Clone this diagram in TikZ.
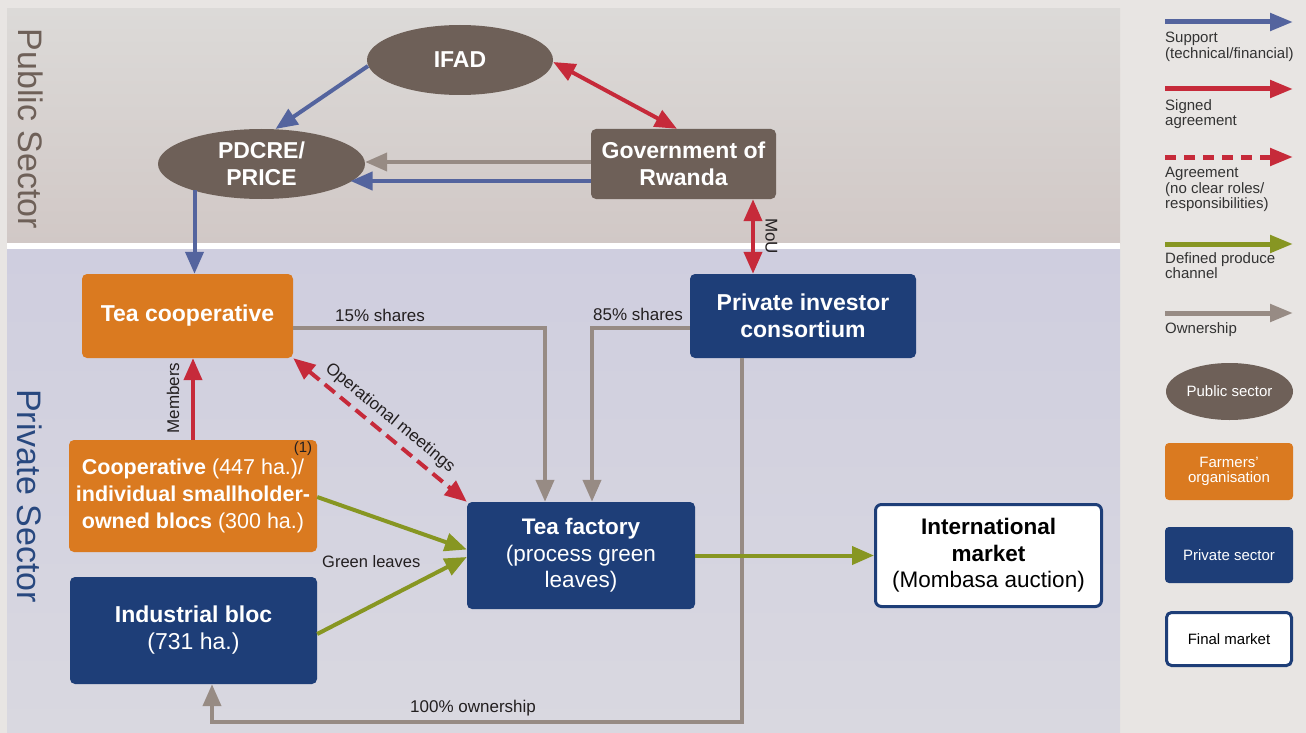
\documentclass[tikz,border=0pt]{standalone}
\usepackage{fontspec}
\setmainfont{Liberation Sans}
\usetikzlibrary{arrows.meta,calc,shapes.geometric}
\definecolor{bgpage}{HTML}{E8E5E3}
\definecolor{pubtop}{HTML}{DCDAD8}
\definecolor{pubbot}{HTML}{D1C8C6}
\definecolor{privtop}{HTML}{CFCEDF}
\definecolor{privbot}{HTML}{D9D8E0}
\definecolor{pubfill}{HTML}{6E6058}
\definecolor{orgfill}{HTML}{DA7A20}
\definecolor{navy}{HTML}{1E3E78}
\definecolor{privtxt}{HTML}{28487F}
\definecolor{supblue}{HTML}{54649E}
\definecolor{sigred}{HTML}{C62A3A}
\definecolor{prodgreen}{HTML}{879622}
\definecolor{owngrey}{HTML}{978B84}
\definecolor{txtdark}{HTML}{231F20}
\definecolor{legtxt}{HTML}{333333}
\begin{document}
\begin{tikzpicture}[x=1pt,y=-1pt,
  bigfont/.style={font=\fontsize{23}{27}\selectfont},
  smallfont/.style={font=\fontsize{17}{20}\selectfont},
  legfont/.style={font=\fontsize{15}{15.6}\selectfont},
  pubell/.style={ellipse, fill=pubfill, text=white, inner sep=0pt, align=center, bigfont},
  pubbox/.style={rectangle, rounded corners=5pt, fill=pubfill, text=white, inner sep=0pt, align=center, bigfont},
  orgbox/.style={rectangle, rounded corners=5pt, fill=orgfill, text=white, inner sep=0pt, align=center, bigfont},
  privbox/.style={rectangle, rounded corners=5pt, fill=navy, text=white, inner sep=0pt, align=center, bigfont},
  finbox/.style={rectangle, rounded corners=6pt, draw=navy, line width=3pt, fill=white, text=black, inner sep=0pt, align=center, bigfont},
  lbl/.style={inner sep=0pt, text=txtdark, smallfont},
  legtext/.style={inner sep=0pt, anchor=north west, align=left, text=legtxt, legfont},
  tip/.style={Triangle[length=22pt,width=18pt]},
  arrsup/.style={draw=supblue, line width=4pt, -{Triangle[length=22pt,width=18pt]}},
  arrsig/.style={draw=sigred, line width=4pt, -{Triangle[length=22pt,width=18pt]}},
  arrsigb/.style={draw=sigred, line width=4pt, {Triangle[length=22pt,width=18pt]}-{Triangle[length=22pt,width=18pt]}},
  arrdash/.style={draw=sigred, line width=4pt, dash pattern=on 13pt off 7pt, {Triangle[length=22pt,width=18pt]}-{Triangle[length=22pt,width=18pt]}},
  arrprod/.style={draw=prodgreen, line width=4pt, -{Triangle[length=22pt,width=18pt]}},
  arrown/.style={draw=owngrey, line width=4pt, -{Triangle[length=22pt,width=18pt]}},
]
\useasboundingbox (0,0) rectangle (1306,733);
% backgrounds
\fill[bgpage] (0,0) rectangle (1306,733);
\shade[top color=pubtop, bottom color=pubbot] (7,9) rectangle (1120,243);
\fill[white] (7,243) rectangle (1120,249);
\shade[top color=privtop, bottom color=privbot] (7,249) rectangle (1120,733);

% sector labels
\node[rotate=-90, text=pubfill, font=\fontsize{34}{34}\selectfont, inner sep=0pt] (publab) at (30.5,129) {Public Sector};
\node[rotate=-90, text=privtxt, font=\fontsize{34}{34}\selectfont, inner sep=0pt] (privlab) at (30,496) {Private Sector};

% main nodes
\node[pubell, minimum width=186pt, minimum height=70pt] (ifad) at (460,60) {\bfseries IFAD};
\node[pubell, minimum width=207pt, minimum height=70pt] (pdcre) at (261.5,164) {\bfseries PDCRE/\\\bfseries PRICE};
\node[pubbox, minimum width=185pt, minimum height=70pt] (gov) at (683.5,164) {\bfseries Government of\\\bfseries Rwanda};
\node[orgbox, minimum width=211pt, minimum height=84pt] (tc) at (187.5,316) {\bfseries Tea cooperative};
\node[privbox, minimum width=226pt, minimum height=84pt] (pic) at (803,316) {\bfseries Private investor\\\bfseries consortium};
\node[orgbox, minimum width=248pt, minimum height=112pt, font=\fontsize{21.5}{27}\selectfont] (cb) at (193,496) {\textbf{Cooperative} (447 ha.)/\\\textbf{individual smallholder-}\\\textbf{owned blocs} (300 ha.)};
\node[privbox, minimum width=228pt, minimum height=107pt, font=\fontsize{22.5}{26.5}\selectfont] (tf) at (581,555.5) {\textbf{Tea factory}\\(process green\\leaves)};
\node[finbox, minimum width=226pt, minimum height=102pt, font=\fontsize{22.5}{26.5}\selectfont] (im) at (988.5,555.5) {\textbf{International}\\\textbf{market}\\(Mombasa auction)};
\node[privbox, minimum width=247pt, minimum height=107pt] (ib) at (193.5,630.5) {\textbf{Industrial bloc}\\(731 ha.)};
\node[inner sep=0pt, text=txtdark, font=\fontsize{15}{15}\selectfont] (fn1) at (303,449) {(1)};

% labels
\node[lbl, anchor=base west] (s15) at (335,321) {15\% shares};
\node[lbl, anchor=base west] (s85) at (593,320) {85\% shares};
\node[lbl, anchor=base west, font=\fontsize{16.5}{20}\selectfont] (gl) at (322,567) {Green leaves};
\node[lbl, anchor=base west] (o100) at (410,712) {100\% ownership};
\node[lbl, rotate=-39.2] (opm) at (390,418) {Operational meetings};
\node[lbl, rotate=90] (mem) at (173,398) {Members};
\node[lbl, rotate=-90] (mou) at (771.5,236) {MoU};

% connectors public
\draw[arrsup] ($(ifad.center)+(-92,6)$) -- ($(pdcre.center)+(14,-35)$);
\draw[arrsigb] ($(ifad.east)+(0,2)$) -- ($(gov.north)+(-6.5,0)$);
\draw[arrown] ($(gov.west)+(0,-2)$) -- ($(pdcre.east)+(0,-2)$);
\draw[arrsup] ($(gov.west)+(0,17)$) -- ($(pdcre.center)+(89,17)$);
\draw[arrsup] ($(pdcre.center)+(-67,26)$) coordinate (pd1) -- (pd1 |- tc.north);
\draw[arrsigb] ($(gov.south)+(69.5,0)$) coordinate (m1) -- (m1 |- pic.north);

% connectors private
\draw[arrsig] (cb.north) -- (cb.north |- tc.south);
\draw[arrdash] (tc.south east) -- (tf.north west);
\draw[arrown] ($(tc.east)+(0,12)$) -| ($(tf.north)+(-36,0)$);
\draw[arrown] ($(pic.west)+(0,12)$) -| ($(tf.north)+(11,0)$);
\coordinate (obot) at (0,722);
\coordinate (o0) at ($(pic.south)+(-61,0)$);
\coordinate (o1) at ($(ib.south)+(18.5,0)$);
\draw[arrown] (o0) -- (o0 |- obot) -- (o1 |- obot) -- (o1);
\draw[arrprod] ($(cb.east)+(0,1)$) -- ($(tf.west)+(0,-6)$);
\draw[arrprod] ($(ib.east)+(0,3.5)$) -- ($(tf.west)+(0,1.5)$);
\draw[arrprod] (tf.east) -- (im.west);

% legend arrows
\foreach \nm/\yy in {la/22, lb/89, lc/157, ld/244, le/313} {
  \coordinate (\nm0) at (1165,\yy);
  \coordinate (\nm1) at (1293,\yy);
}
\draw[arrsup, line width=5pt, -{Triangle[length=23pt,width=17pt]}] (la0) -- (la1);
\draw[arrsig, line width=5pt, -{Triangle[length=23pt,width=17pt]}] (lb0) -- (lb1);
\draw[draw=sigred, line width=5pt, dash pattern=on 11pt off 8pt, -{Triangle[length=23pt,width=17pt]}] (lc0) -- (lc1);
\draw[arrprod, line width=5pt, -{Triangle[length=23pt,width=17pt]}] (ld0) -- (ld1);
\draw[arrown, line width=5pt, -{Triangle[length=23pt,width=17pt]}] (le0) -- (le1);

\node[legtext] (lta) at (1165,32) {Support\\(technical/financial)};
\node[legtext] (ltb) at (1165,99) {Signed\\agreement};
\node[legtext] (ltc) at (1165,167) {Agreement\\(no clear roles/\\responsibilities)};
\node[legtext] (ltd) at (1165,252) {Defined produce\\channel};
\node[legtext] (lte) at (1165,322) {Ownership};

% legend shapes
\node[ellipse, fill=pubfill, text=white, inner sep=0pt, minimum width=127pt, minimum height=57pt, legfont] (lgell) at (1229.5,391.5) {Public sector};
\node[rectangle, rounded corners=4pt, fill=orgfill, text=white, inner sep=0pt, minimum width=128pt, minimum height=57pt, align=center, legfont] (lgorg) at (1229,471.5) {Farmers’\\organisation};
\node[rectangle, rounded corners=4pt, fill=navy, text=white, inner sep=0pt, minimum width=128pt, minimum height=56pt, legfont] (lgpriv) at (1229,555) {Private sector};
\node[rectangle, rounded corners=5pt, draw=navy, line width=3pt, fill=white, text=black, inner sep=0pt, minimum width=125pt, minimum height=53pt, legfont] (lgfin) at (1229,639) {Final market};
\end{tikzpicture}
\end{document}
